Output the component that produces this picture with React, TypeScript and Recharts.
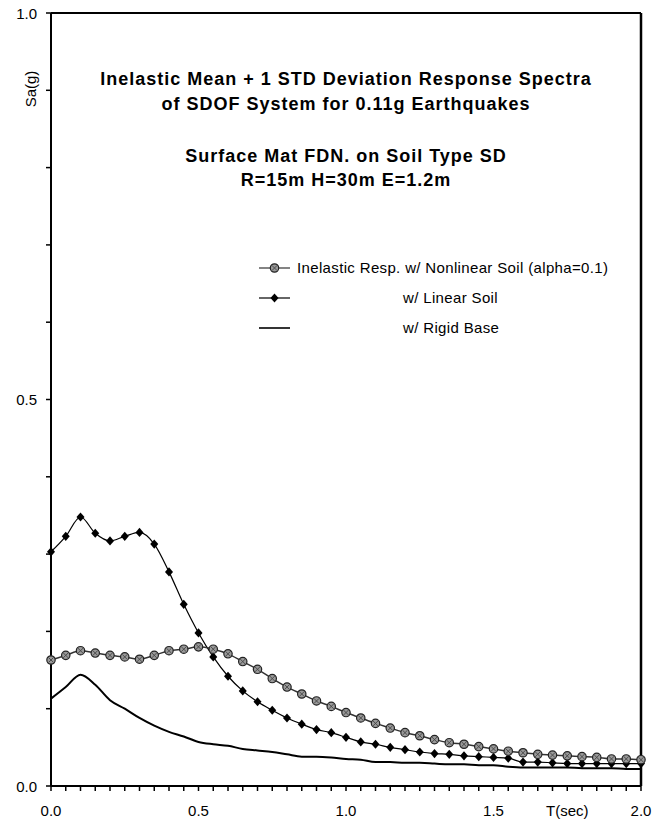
import { Line, LineChart, ReferenceLine, XAxis, YAxis } from "recharts";

const periods = [
  0, 0.05, 0.1, 0.15, 0.2, 0.25, 0.3, 0.35, 0.4, 0.45, 0.5, 0.55, 0.6, 0.65, 0.7, 0.75, 0.8, 0.85, 0.9, 0.95, 1.0,
  1.05, 1.1, 1.15, 1.2, 1.25, 1.3, 1.35, 1.4, 1.45, 1.5, 1.55, 1.6, 1.65, 1.7, 1.75, 1.8, 1.85, 1.9, 1.95, 2.0,
];

// inelastic resp. w/ nonlinear soil (alpha=0.1)
const nonlinearSoil = [
  0.163, 0.169, 0.175, 0.172, 0.169, 0.167, 0.164, 0.169, 0.175, 0.177, 0.18, 0.177, 0.171, 0.161, 0.151, 0.139,
  0.128, 0.119, 0.11, 0.103, 0.095, 0.088, 0.081, 0.075, 0.069, 0.065, 0.06, 0.056, 0.054, 0.051, 0.048, 0.045,
  0.043, 0.041, 0.04, 0.039, 0.038, 0.037, 0.035, 0.035, 0.034,
];

const linearSoil = [
  0.303, 0.323, 0.348, 0.327, 0.317, 0.323, 0.328, 0.313, 0.277, 0.235, 0.198, 0.167, 0.142, 0.123, 0.109, 0.098,
  0.088, 0.08, 0.073, 0.069, 0.063, 0.057, 0.054, 0.05, 0.047, 0.044, 0.042, 0.041, 0.039, 0.038, 0.037, 0.036,
  0.031, 0.031, 0.03, 0.029, 0.029, 0.029, 0.029, 0.029, 0.029,
];

const rigidBase = [
  0.113, 0.128, 0.144, 0.131, 0.111, 0.1, 0.088, 0.078, 0.07, 0.064, 0.057, 0.054, 0.052, 0.048, 0.046, 0.044,
  0.041, 0.038, 0.038, 0.037, 0.035, 0.034, 0.031, 0.031, 0.03, 0.03, 0.029, 0.028, 0.028, 0.027, 0.027, 0.025,
  0.024, 0.024, 0.024, 0.024, 0.023, 0.023, 0.023, 0.022, 0.022,
];

const xLabels = [0, 0.5, 1.0, 1.5, 2.0];
const yTicks = [0, 0.1, 0.2, 0.3, 0.4, 0.5, 0.6, 0.7, 0.8, 0.9, 1.0];
const yLabels = [0, 0.5, 1.0];
const axisTitleX = "T(sec)";
const axisTitleY = "Sa(g)";

const titleLines = [
  "Inelastic Mean + 1 STD Deviation Response Spectra",
  "of SDOF System for 0.11g Earthquakes",
  "Surface Mat FDN. on Soil Type SD",
  "R=15m H=30m E=1.2m",
];

const data = periods.map((t, i) => ({
  t,
  nonlinear: nonlinearSoil[i],
  linear: linearSoil[i],
  rigid: rigidBase[i],
}));

const FONT = '"Liberation Sans", Arial, Helvetica, sans-serif';

const near = (list: number[], v: number) => list.some((x) => Math.abs(x - v) < 1e-6);

function XTick({ x, y, payload }: any) {
  const v = payload.value;
  let label = "";
  if (near(xLabels, v)) label = v.toFixed(1);
  else if (Math.abs(v - 1.75) < 1e-6) label = axisTitleX;
  if (!label) return <g />;
  return (
    <text x={x} y={y} dy={23} textAnchor="middle" fontSize={15} fontFamily={FONT} fill="#000">
      {label}
    </text>
  );
}

function YTick({ x, y, payload }: any) {
  const v = payload.value;
  if (!near(yLabels, v)) return <g />;
  return (
    <text x={x} y={y} dy={5.5} textAnchor="end" fontSize={15} fontFamily={FONT} fill="#000">
      {v.toFixed(1)}
    </text>
  );
}

function HatchDot({ cx, cy, index }: any) {
  return (
    <g key={`h${index}`}>
      <circle cx={cx} cy={cy} r={4.2} fill="#999" stroke="#222" strokeWidth={1.2} />
      <path
        d={`M${cx - 2.6},${cy - 2.6}L${cx + 2.6},${cy + 2.6}M${cx - 2.6},${cy + 2.6}L${cx + 2.6},${cy - 2.6}`}
        stroke="#444"
        strokeWidth={0.9}
      />
    </g>
  );
}

function DiamondDot({ cx, cy, index }: any) {
  return (
    <path
      key={`d${index}`}
      d={`M${cx},${cy - 4.6}L${cx + 4},${cy}L${cx},${cy + 4.6}L${cx - 4},${cy}Z`}
      fill="#000"
    />
  );
}

function LegendRow({ y, kind, label, textX }: { y: number; kind: string; label: string; textX: number }) {
  return (
    <g>
      <line
        x1={259}
        x2={290}
        y1={y}
        y2={y}
        stroke={kind === "nonlinear" ? "#333" : "#000"}
        strokeWidth={kind === "rigid" ? 1.6 : 1.2}
      />
      {kind === "nonlinear" && <HatchDot cx={274.5} cy={y} index={0} />}
      {kind === "linear" && <DiamondDot cx={274.5} cy={y} index={0} />}
      <text x={textX} y={y} dy={5.2} fontSize={15} fontFamily={FONT} letterSpacing={0.35} fill="#000">
        {label}
      </text>
    </g>
  );
}

export default function App() {
  return (
    <div style={{ position: "absolute", left: 0, top: 0, width: 670, height: 820, background: "#fff" }}>
      <LineChart width={670} height={820} data={data} margin={{ top: 13, right: 29, bottom: 0, left: 0 }}>
        <XAxis
          dataKey="t"
          type="number"
          domain={[0, 2]}
          ticks={periods}
          interval={0}
          height={34}
          tickSize={5}
          tickMargin={2}
          stroke="#000"
          axisLine={{ stroke: "#000", strokeWidth: 2 }}
          tickLine={{ stroke: "#000", strokeWidth: 1.5 }}
          tick={<XTick />}
        />
        <YAxis
          type="number"
          domain={[0, 1]}
          ticks={yTicks}
          interval={0}
          width={51}
          tickSize={5}
          tickMargin={9}
          stroke="#000"
          axisLine={{ stroke: "#000", strokeWidth: 2 }}
          tickLine={{ stroke: "#000", strokeWidth: 1.5 }}
          tick={<YTick />}
        />
        <ReferenceLine y={1} stroke="#000" strokeWidth={2} />
        <ReferenceLine x={2} stroke="#000" strokeWidth={2.5} />
        <Line
          dataKey="rigid"
          type="monotone"
          stroke="#000"
          strokeWidth={2}
          dot={false}
          isAnimationActive={false}
        />
        <Line
          dataKey="linear"
          type="monotone"
          stroke="#000"
          strokeWidth={1.2}
          dot={<DiamondDot />}
          isAnimationActive={false}
        />
        <Line
          dataKey="nonlinear"
          type="monotone"
          stroke="#333"
          strokeWidth={1.5}
          dot={<HatchDot />}
          isAnimationActive={false}
        />
      </LineChart>
      <svg
        width={670}
        height={820}
        style={{ position: "absolute", left: 0, top: 0, pointerEvents: "none" }}
      >
        <text
          x={31}
          y={89}
          transform="rotate(-90 31 89)"
          textAnchor="middle"
          dy={5}
          fontSize={15}
          fontFamily={FONT}
          fill="#000"
        >
          {axisTitleY}
        </text>
        {titleLines.map((line, i) => (
          <text
            key={line}
            x={346}
            y={[85, 110, 162, 186][i]}
            textAnchor="middle"
            fontSize={18}
            fontWeight="bold"
            letterSpacing={1}
            fontFamily={FONT}
            fill="#000"
          >
            {line}
          </text>
        ))}
        <LegendRow y={268} kind="nonlinear" label="Inelastic Resp. w/ Nonlinear Soil (alpha=0.1)" textX={297} />
        <LegendRow y={298} kind="linear" label="w/ Linear Soil" textX={403} />
        <LegendRow y={328} kind="rigid" label="w/ Rigid Base" textX={403} />
      </svg>
    </div>
  );
}
